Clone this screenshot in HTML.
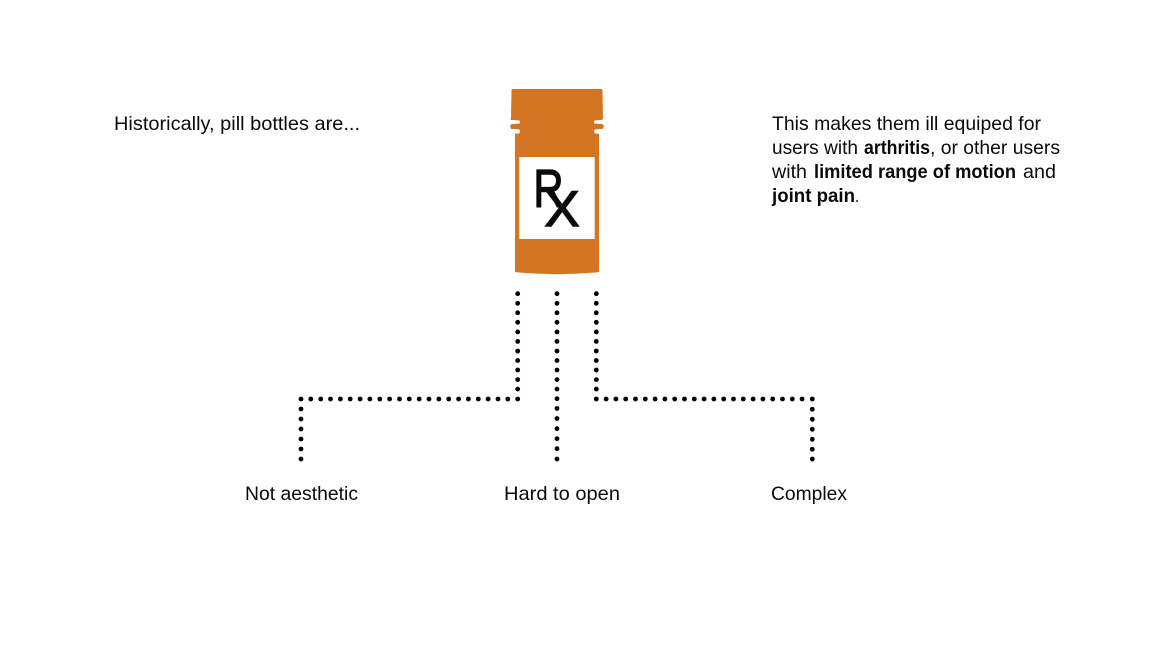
<!DOCTYPE html>
<html>
<head>
<meta charset="utf-8">
<style>
html,body{margin:0;padding:0;background:#fff;width:1152px;height:648px;overflow:hidden}
svg{display:block}
text{font-family:"Liberation Sans",sans-serif;font-size:19.5px;fill:#0a0a0a}
.b{font-weight:bold}
.rx{stroke:#0a0a0a;stroke-width:1.4px}
circle{r:2.4px}
</style>
</head>
<body>
<svg width="1152" height="648" viewBox="0 0 1152 648" xmlns="http://www.w3.org/2000/svg">
<rect width="1152" height="648" fill="#fff"/>

<!-- bottle -->
<path d="M513 89 L601 89 Q602.5 89 602.5 91 L603 118 Q603 120 601 120 L510.5 120 Q511 119 511 118 L511.5 91 Q511.5 89 513 89 Z" fill="#d37522"/>
<path d="M511.5 124 H519 V129 H511.5 Q509 126.5 511.5 124 Z" fill="#d37522"/>
<path d="M595 124 H602.5 Q605 126.5 602.5 129 H595 Z" fill="#d37522"/>
<rect x="515" y="119" width="84" height="150" fill="#d37522"/>
<path d="M515 268 H599 V271 Q599 272.2 597 272.4 Q557 276 517 272.4 Q515 272.2 515 271 Z" fill="#d37522"/>
<rect x="510" y="120.2" width="10" height="3.6" rx="1.8" fill="#fff"/>
<rect x="594" y="120.2" width="10" height="3.6" rx="1.8" fill="#fff"/>
<rect x="510" y="129.2" width="10" height="4.4" rx="2.2" fill="#fff"/>
<rect x="594" y="129.2" width="10" height="4.4" rx="2.2" fill="#fff"/>
<rect x="519.3" y="157" width="75.4" height="82" fill="#fff"/>
<text class="rx" x="533.5" y="206.3" style="font-size:52.8px" textLength="30" lengthAdjust="spacingAndGlyphs">R</text>
<text class="rx" x="544.5" y="226" style="font-size:50px" textLength="35" lengthAdjust="spacingAndGlyphs">X</text>

<!-- dotted connectors -->
<g fill="#000" id="dots">
<circle cx="517.7" cy="293.7" r="2.4"/><circle cx="517.7" cy="303.3" r="2.4"/><circle cx="517.7" cy="312.8" r="2.4"/><circle cx="517.7" cy="322.3" r="2.4"/><circle cx="517.7" cy="331.9" r="2.4"/><circle cx="517.7" cy="341.4" r="2.4"/><circle cx="517.7" cy="351" r="2.4"/><circle cx="517.7" cy="360.5" r="2.4"/><circle cx="517.7" cy="370" r="2.4"/><circle cx="517.7" cy="379.6" r="2.4"/><circle cx="517.7" cy="389.1" r="2.4"/><circle cx="517.7" cy="399" r="2.4"/>
<circle cx="301" cy="399" r="2.4"/><circle cx="310.8" cy="399" r="2.4"/><circle cx="320.7" cy="399" r="2.4"/><circle cx="330.5" cy="399" r="2.4"/><circle cx="340.4" cy="399" r="2.4"/><circle cx="350.2" cy="399" r="2.4"/><circle cx="360.1" cy="399" r="2.4"/><circle cx="369.9" cy="399" r="2.4"/><circle cx="379.8" cy="399" r="2.4"/><circle cx="389.6" cy="399" r="2.4"/><circle cx="399.5" cy="399" r="2.4"/><circle cx="409.3" cy="399" r="2.4"/><circle cx="419.2" cy="399" r="2.4"/><circle cx="429" cy="399" r="2.4"/><circle cx="438.9" cy="399" r="2.4"/><circle cx="448.7" cy="399" r="2.4"/><circle cx="458.6" cy="399" r="2.4"/><circle cx="468.4" cy="399" r="2.4"/><circle cx="478.3" cy="399" r="2.4"/><circle cx="488.1" cy="399" r="2.4"/><circle cx="498" cy="399" r="2.4"/><circle cx="507.8" cy="399" r="2.4"/>
<circle cx="301" cy="409" r="2.4"/><circle cx="301" cy="419" r="2.4"/><circle cx="301" cy="429" r="2.4"/><circle cx="301" cy="439" r="2.4"/><circle cx="301" cy="449" r="2.4"/><circle cx="301" cy="459" r="2.4"/>

<circle cx="557" cy="293.7" r="2.4"/><circle cx="557" cy="303.3" r="2.4"/><circle cx="557" cy="312.8" r="2.4"/><circle cx="557" cy="322.3" r="2.4"/><circle cx="557" cy="331.9" r="2.4"/><circle cx="557" cy="341.4" r="2.4"/><circle cx="557" cy="351" r="2.4"/><circle cx="557" cy="360.5" r="2.4"/><circle cx="557" cy="370" r="2.4"/><circle cx="557" cy="379.6" r="2.4"/><circle cx="557" cy="389.1" r="2.4"/><circle cx="557" cy="398.7" r="2.4"/><circle cx="557" cy="408.5" r="2.4"/><circle cx="557" cy="418.5" r="2.4"/><circle cx="557" cy="428.7" r="2.4"/><circle cx="557" cy="438.7" r="2.4"/><circle cx="557" cy="448.7" r="2.4"/><circle cx="557" cy="459" r="2.4"/>

<circle cx="596.3" cy="293.7" r="2.4"/><circle cx="596.3" cy="303.3" r="2.4"/><circle cx="596.3" cy="312.8" r="2.4"/><circle cx="596.3" cy="322.3" r="2.4"/><circle cx="596.3" cy="331.9" r="2.4"/><circle cx="596.3" cy="341.4" r="2.4"/><circle cx="596.3" cy="351" r="2.4"/><circle cx="596.3" cy="360.5" r="2.4"/><circle cx="596.3" cy="370" r="2.4"/><circle cx="596.3" cy="379.6" r="2.4"/><circle cx="596.3" cy="389.1" r="2.4"/><circle cx="596.3" cy="399" r="2.4"/>
<circle cx="606.1" cy="399" r="2.4"/><circle cx="615.9" cy="399" r="2.4"/><circle cx="625.7" cy="399" r="2.4"/><circle cx="635.5" cy="399" r="2.4"/><circle cx="645.3" cy="399" r="2.4"/><circle cx="655.1" cy="399" r="2.4"/><circle cx="664.9" cy="399" r="2.4"/><circle cx="674.7" cy="399" r="2.4"/><circle cx="684.5" cy="399" r="2.4"/><circle cx="694.3" cy="399" r="2.4"/><circle cx="704.1" cy="399" r="2.4"/><circle cx="713.9" cy="399" r="2.4"/><circle cx="723.7" cy="399" r="2.4"/><circle cx="733.5" cy="399" r="2.4"/><circle cx="743.3" cy="399" r="2.4"/><circle cx="753.1" cy="399" r="2.4"/><circle cx="762.9" cy="399" r="2.4"/><circle cx="772.7" cy="399" r="2.4"/><circle cx="782.5" cy="399" r="2.4"/><circle cx="792.3" cy="399" r="2.4"/><circle cx="802.1" cy="399" r="2.4"/><circle cx="812.3" cy="399" r="2.4"/>
<circle cx="812.3" cy="409.3" r="2.4"/><circle cx="812.3" cy="419.3" r="2.4"/><circle cx="812.3" cy="429.3" r="2.4"/><circle cx="812.3" cy="439.3" r="2.4"/><circle cx="812.3" cy="449.3" r="2.4"/><circle cx="812.3" cy="459" r="2.4"/>
</g>

<!-- text -->
<text x="114" y="130" textLength="246" lengthAdjust="spacingAndGlyphs">Historically, pill bottles are...</text>

<text x="772" y="130" textLength="269" lengthAdjust="spacingAndGlyphs">This makes them ill equiped for</text>

<text x="772" y="154" textLength="86" lengthAdjust="spacingAndGlyphs">users with</text>
<text class="b" x="864" y="154" textLength="66" lengthAdjust="spacingAndGlyphs">arthritis</text>
<text x="930" y="154" textLength="130" lengthAdjust="spacingAndGlyphs">, or other users</text>

<text x="772" y="178" textLength="35" lengthAdjust="spacingAndGlyphs">with</text>
<text class="b" x="814" y="178" textLength="202" lengthAdjust="spacingAndGlyphs">limited range of motion</text>
<text x="1023" y="178" textLength="33" lengthAdjust="spacingAndGlyphs">and</text>

<text class="b" x="772" y="202" textLength="83" lengthAdjust="spacingAndGlyphs">joint pain</text>
<text x="855" y="202" textLength="4" lengthAdjust="spacingAndGlyphs">.</text>

<text x="245" y="500" textLength="113" lengthAdjust="spacingAndGlyphs">Not aesthetic</text>
<text x="504" y="500" textLength="116" lengthAdjust="spacingAndGlyphs">Hard to open</text>
<text x="771" y="500" textLength="76" lengthAdjust="spacingAndGlyphs">Complex</text>
</svg>
</body>
</html>
